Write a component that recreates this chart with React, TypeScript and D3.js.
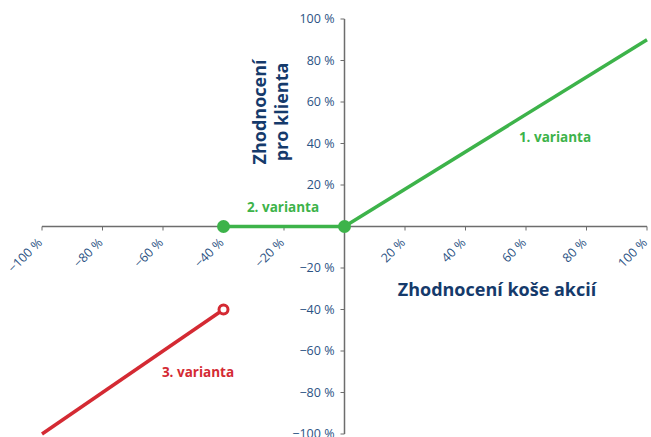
import * as d3 from "d3";
import React, { useEffect, useRef } from "react";

// tick values (percent)
const xTicks = [-100, -80, -60, -40, -20, 20, 40, 60, 80, 100];
const yTicks = [100, 80, 60, 40, 20, -20, -40, -60, -80, -100];

// variant lines: [stock basket return, client return]
const variant1 = [[0, 0], [100, 90]];
const variant2 = [[-40, 0], [0, 0]];
const variant3 = [[-100, -100], [-40, -40]];
const filledDots = [[-40, 0], [0, 0]];
const openDots = [[-40, -40]];

const GREEN = "#3db34a";
const RED = "#d42a33";
const NAVY = "#153a6b";
const TICK = "#2c5384";
const FONT = "'Open Sans', 'Noto Sans', sans-serif";

const App = (): JSX.Element => {
	const svgRef = useRef<SVGSVGElement>(null);
	useEffect(() => {
		const svg = d3.select(svgRef.current).append("g");

		const x = d3.scaleLinear().domain([-100, 100]).range([42, 647]);
		const y = d3.scaleLinear().domain([-100, 100]).range([434, 19]);

		// X axis
		const xAxis = svg.append("g").attr("transform", `translate(0,${y(0)})`);
		xAxis.append("line")
			.attr("x1", x(-100))
			.attr("x2", x(100))
			.attr("stroke", "#6d6d6d")
			.attr("stroke-width", 1.5);
		xAxis.selectAll("line.tick")
			.data(xTicks)
			.join("line")
			.attr("class", "tick")
			.attr("x1", (d) => x(d))
			.attr("x2", (d) => x(d))
			.attr("y1", 0)
			.attr("y2", 4)
			.attr("stroke", "#6d6d6d");
		xAxis.selectAll("text")
			.data(xTicks)
			.join("text")
			.attr("transform", (d) => `translate(${x(d) + 1},${17})rotate(-45)`)
			.attr("text-anchor", "end")
			.attr("font-family", FONT)
			.attr("font-size", 12.5)
			.attr("fill", TICK)
			.text((d) => `${d < 0 ? "\u2212" : ""}${Math.abs(d)} %`);

		// Y axis
		const yAxis = svg.append("g").attr("transform", `translate(${x(0)},0)`);
		yAxis.append("line")
			.attr("y1", y(100))
			.attr("y2", y(-100))
			.attr("stroke", "#6d6d6d")
			.attr("stroke-width", 1.5);
		yAxis.selectAll("line.tick")
			.data(yTicks)
			.join("line")
			.attr("class", "tick")
			.attr("x1", -4)
			.attr("x2", 0)
			.attr("y1", (d) => y(d))
			.attr("y2", (d) => y(d))
			.attr("stroke", "#6d6d6d");
		yAxis.selectAll("text")
			.data(yTicks)
			.join("text")
			.attr("x", -10)
			.attr("y", (d) => y(d))
			.attr("dy", "0.35em")
			.attr("text-anchor", "end")
			.attr("font-family", FONT)
			.attr("font-size", 12.5)
			.attr("fill", TICK)
			.text((d) => `${d < 0 ? "\u2212" : ""}${Math.abs(d)} %`);

		// axis titles
		svg.append("text")
			.attr("x", 497)
			.attr("y", 296)
			.attr("text-anchor", "middle")
			.attr("font-family", FONT)
			.attr("font-weight", 700)
			.attr("font-size", 18)
			.attr("fill", NAVY)
			.text("Zhodnocení koše akcií");
		const yTitle = svg.append("text")
			.attr("transform", `translate(270,112)rotate(-90)`)
			.attr("text-anchor", "middle")
			.attr("font-family", FONT)
			.attr("font-weight", 700)
			.attr("font-size", 18)
			.attr("fill", NAVY);
		yTitle.append("tspan").attr("x", 0).attr("dy", "-0.2em").text("Zhodnocení");
		yTitle.append("tspan").attr("x", 0).attr("dy", "1.2em").text("pro klienta");

		// lines
		const line = d3
			.line<number[]>()
			.x((d) => x(d[0]))
			.y((d) => y(d[1]));
		const series: [number[][], string][] = [
			[variant1, GREEN],
			[variant2, GREEN],
			[variant3, RED],
		];
		series.forEach(([data, color]) => {
			svg.append("path")
				.datum(data)
				.attr("d", line)
				.attr("fill", "none")
				.attr("stroke", color)
				.attr("stroke-width", 3.5);
		});

		svg.selectAll("circle.filled")
			.data(filledDots)
			.join("circle")
			.attr("class", "filled")
			.attr("cx", (d) => x(d[0]))
			.attr("cy", (d) => y(d[1]))
			.attr("r", 6.5)
			.attr("fill", GREEN);
		svg.selectAll("circle.open")
			.data(openDots)
			.join("circle")
			.attr("class", "open")
			.attr("cx", (d) => x(d[0]))
			.attr("cy", (d) => y(d[1]))
			.attr("r", 4.5)
			.attr("fill", "#fff")
			.attr("stroke", RED)
			.attr("stroke-width", 3);

		// variant labels
		const labels: [string, number, number, string][] = [
			["1. varianta", 555, 142, GREEN],
			["2. varianta", 283, 212, GREEN],
			["3. varianta", 198, 377, RED],
		];
		svg.selectAll("text.label")
			.data(labels)
			.join("text")
			.attr("class", "label")
			.attr("x", (d) => d[1])
			.attr("y", (d) => d[2])
			.attr("text-anchor", "middle")
			.attr("font-family", FONT)
			.attr("font-weight", 700)
			.attr("font-size", 13.5)
			.attr("fill", (d) => d[3])
			.text((d) => d[0]);

		return () => {
			svg.remove();
		};
	}, []);

	return (
		<svg
			ref={svgRef}
			width={651}
			height={437}
			style={{ position: "absolute", left: 0, top: 0, background: "#fff" }}
		/>
	);
};

export default App;
